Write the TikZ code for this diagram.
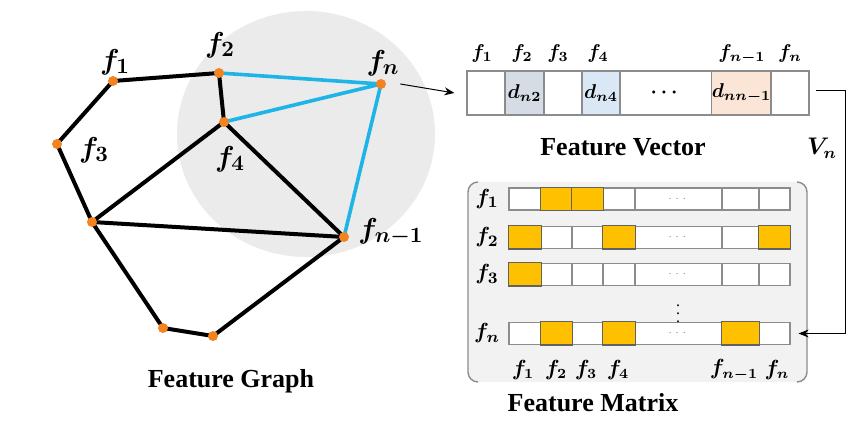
\documentclass[tikz,border=0pt]{standalone}
\usepackage{amsmath, amssymb, bm}
\usepackage[no-math]{fontspec}
\setmainfont{Liberation Serif}
\usetikzlibrary{positioning, arrows.meta, calc, backgrounds}
\definecolor{NodeColor}{RGB}{245,130,32}
\definecolor{NbrColor}{RGB}{30,180,230}
\definecolor{HaloColor}{RGB}{235,235,235}
\definecolor{CellGrayColor}{RGB}{214,220,229}
\definecolor{CellBlueColor}{RGB}{218,232,245}
\definecolor{CellPeachColor}{RGB}{251,229,214}
\definecolor{HotColor}{RGB}{255,192,0}
\definecolor{MatrixColor}{RGB}{242,242,242}
\definecolor{FrameColor}{RGB}{140,140,140}
\pgfdeclarelayer{back}
\pgfdeclarelayer{links}
\pgfsetlayers{back,links,main}
\tikzstyle{edge} = [line width=2pt, black, line cap=round]
\tikzstyle{nbr edge} = [line width=1.8pt, NbrColor, line cap=round]
\tikzstyle{flow} = [line width=0.5pt, black, -{Stealth[length=5pt, width=4pt]}]
\tikzset{
  vertex/.style={circle, fill=NodeColor, inner sep=0pt, minimum size=5pt},
  glabel/.style={font=\fontsize{15}{17}\selectfont\boldmath},
  vlabel/.style={font=\fontsize{10}{12}\selectfont\boldmath},
  mlabel/.style={font=\fontsize{11}{13}\selectfont\boldmath},
  title/.style={font=\fontsize{13}{15}\selectfont\bfseries},
  vcell/.style={draw=FrameColor, line width=0.6pt, inner sep=0pt, minimum height=22pt, font=\fontsize{10}{12}\selectfont\boldmath},
  mcell/.style={draw=FrameColor, fill=white, line width=0.6pt, inner sep=0pt, minimum height=11pt},
  hot cell/.style={fill=HotColor, draw=FrameColor!70!black, line width=0.6pt}
}

\begin{document}
\begin{tikzpicture}[x=0.5pt, y=-0.5pt]
    \useasboundingbox (0,0) rectangle (862,426);

    % Neighbourhood of f_n
    \begin{pgfonlayer}{back}
        \fill[HaloColor] (306,134) ellipse (129 and 123);
    \end{pgfonlayer}

    % Graph vertices
    \node[vertex] (f1) at (113,81) {};
    \node[vertex] (f2) at (219,73) {};
    \node[vertex] (fn) at (381,84) {};
    \node[vertex] (f4) at (224,122) {};
    \node[vertex] (f3) at (57,144) {};
    \node[vertex] (va) at (92,222) {};
    \node[vertex] (fm) at (344,237) {};
    \node[vertex] (vb) at (163,328) {};
    \node[vertex] (vc) at (213,336) {};

    % Edges
    \begin{pgfonlayer}{links}
        \foreach \a/\b in {f1/f2, f1/f3, f3/va, va/f4, va/fm, va/vb, vb/vc, vc/fm, f2/f4, f4/fm}
            \draw[edge] (\a.center) -- (\b.center);
        \foreach \a in {f2, f4, fm}
            \draw[nbr edge] (fn.center) -- (\a.center);
    \end{pgfonlayer}

    % Vertex labels
    \node[glabel] (lf1) at (115,62) {$f_1$};
    \node[glabel] (lf2) at (220,45) {$f_2$};
    \node[glabel] (lfn) at (383,63) {$f_n$};
    \node[glabel] (lf3) at (94,150) {$f_3$};
    \node[glabel] (lf4) at (230,159) {$f_4$};
    \node[glabel] (lfm) at (391,232) {$f_{n-1}$};
    \node[title] (gtitle) at (231,381) {Feature Graph};

    % Feature vector
    \foreach \cx/\cw/\cf/\ct [count=\i] in {486/38/white/{}, 524.5/39/CellGrayColor/{$d_{n2}$}, 563/38/white/{}, 601/38/CellBlueColor/{$d_{n4}$}, 666/92/white/{$\cdots$}, 741.5/59/CellPeachColor/{$d_{nn-1}$}, 790/38/white/{}}
        \node[vcell, fill=\cf, minimum width=\cw*0.5pt] (v\i) at (\cx,93) {\ct};
    \foreach \lx/\lt [count=\i] in {482/1, 522/2, 558/3, 598/4, 742/{n-1}, 790/n}
        \node[vlabel] (vt\i) at (\lx,54) {$f_{\lt}$};
    \node[title] (vtitle) at (623,147) {Feature Vector};
    \draw[flow] ([xshift=7pt]fn.east) -- ([xshift=-6pt]v1.west);

    % Feature matrix
    \fill[MatrixColor, rounded corners=5pt] (468,182) rectangle (807,382);
    \draw[FrameColor, line width=0.7pt, rounded corners=5pt] (478,182) -- (468,182) -- (468,382) -- (478,382);
    \draw[FrameColor, line width=0.7pt, rounded corners=5pt] (797,182) -- (807,182) -- (807,382) -- (797,382);
    \foreach \r/\ry in {1/199, 2/237.5, 3/274.5, 4/333.5}
        \foreach \cx/\cw/\ct [count=\c] in {525/32/{}, 556.5/31/{}, 587.5/31/{}, 619/32/{}, 678.5/87/{$\cdots$}, 740.5/37/{}, 774.5/31/{}}
            \node[mcell, minimum width=\cw*0.5pt, font=\fontsize{5}{6}\selectfont, text=gray] (m\r-\c) at (\cx,\ry) {\ct};
    \foreach \r/\c in {1/2, 1/3, 2/1, 2/4, 2/7, 3/1, 4/2, 4/4, 4/6}
        \filldraw[hot cell] (m\r-\c.south west) rectangle (m\r-\c.north east);
    \node[inner sep=0pt, font=\fontsize{8}{9}\selectfont\boldmath] (vdots) at (678,308) {$\vdots$};
    \foreach \r/\lt in {1/1, 2/2, 3/3, 4/n}
        \node[mlabel] (rl\r) at ($(m\r-1.center)+(-38,0)$) {$f_{\lt}$};
    \foreach \lx/\lt [count=\i] in {523/1, 556/2, 586/3, 618/4, 734/{n-1}, 777/n}
        \node[mlabel, font=\fontsize{10.5}{12}\selectfont\boldmath] (cl\i) at (\lx,370) {$f_{\lt}$};
    \node[title] (mtitle) at (593,403) {Feature Matrix};

    % Vector fed back into the matrix
    \coordinate (turn) at (845,91);
    \draw[flow] ([xshift=3pt,yshift=1pt]v7.east) -- (turn) |- ([xshift=4pt]m4-7.east);
    \node[font=\fontsize{12}{14}\selectfont\boldmath] (vn) at (822,148) {$V_n$};
\end{tikzpicture}
\end{document}
